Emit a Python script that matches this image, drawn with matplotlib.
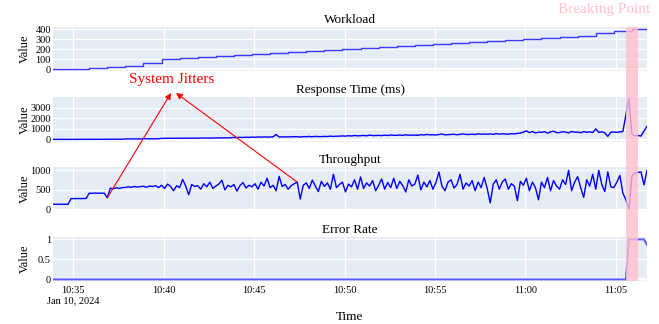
import numpy as np
import pandas as pd
import matplotlib
matplotlib.use('Agg')
import matplotlib.pyplot as plt
import matplotlib.dates as mdates
from matplotlib.patches import Rectangle, ConnectionPatch
from matplotlib.transforms import blended_transform_factory

# --- data ---
start = '2024-01-10 10:33:53'
end = '2024-01-10 11:06:43'

# workload: one level per minute (steps at hh:mm:53)
workload = [0, 0, 10, 20, 30, 60, 100, 110, 120, 130, 140, 150, 160, 170, 180, 190, 200,
            210, 220, 230, 240, 250, 260, 270, 280, 290, 300, 310, 320, 330, 360, 380, 400]

# response time in ms, sampled every 10 s (one row per minute)
response = [
    15, 18, 16, 17, 15, 16,
    18, 17, 19, 18, 20, 18,
    22, 20, 24, 21, 23, 22,
    30, 28, 32, 29, 31, 30,
    55, 60, 58, 62, 57, 60,
    70, 75, 68, 72, 74, 70,
    110, 118, 112, 120, 115, 122,
    125, 130, 120, 135, 128, 132,
    140, 135, 150, 142, 138, 148,
    155, 160, 150, 165, 158, 170,
    200, 185, 210, 195, 220, 205,
    230, 215, 245, 225, 250, 235,
    240, 260, 480, 235, 255, 245,
    260, 250, 275, 265, 240, 280,
    270, 290, 265, 300, 280, 275,
    300, 285, 320, 295, 310, 330,
    340, 320, 360, 335, 380, 350,
    360, 390, 350, 420, 370, 380,
    390, 370, 410, 385, 430, 400,
    400, 430, 390, 450, 410, 420,
    420, 400, 460, 430, 480, 440,
    450, 430, 470, 520, 440, 460,
    470, 500, 450, 490, 530, 480,
    480, 510, 470, 540, 500, 520,
    500, 530, 490, 560, 510, 540,
    520, 500, 560, 530, 580, 600,
    700, 820, 650, 760, 620, 690,
    680, 740, 600, 720, 790, 650,
    660, 730, 700, 620, 760, 690,
    700, 640, 750, 680, 720, 660,
    1000, 680, 720, 640, 300, 700,
    700, 680, 720, 760, 2300, 3850,
    520, 360, 380, 330, 800, 1250,
]

# throughput, same 10 s samples
throughput = [
    136, 135, 137, 136, 134, 136,
    282, 280, 283, 281, 282, 284,
    418, 416, 420, 419, 417, 421,
    300, 545, 530, 556, 540, 560,
    565, 580, 570, 590, 575, 585,
    595, 570, 600, 585, 610, 560,
    620, 540, 650, 590, 480, 610,
    560, 770, 600, 380, 640, 590,
    610, 520, 660, 580, 700, 540,
    600, 650, 750, 500, 620, 580,
    640, 470, 610, 690, 550, 620,
    580, 660, 520, 700, 600, 800,
    560, 620, 480, 846, 590, 640,
    520, 610, 660, 700, 270, 620,
    680, 540, 750, 600, 460, 720,
    590, 680, 520, 900, 560, 640,
    700, 450, 650, 580, 760, 520,
    830, 540, 680, 600, 740, 480,
    620, 780, 520, 690, 560, 800,
    540, 720, 610, 450, 760, 600,
    650, 880, 500, 700, 580, 740,
    520, 690, 957, 600, 480, 700,
    760, 550, 640, 900, 520, 680,
    600, 740, 480, 700, 560, 820,
    540, 172, 650, 760, 520, 700,
    780, 520, 660, 600, 230, 720,
    620, 800, 480, 700, 560, 250,
    700, 560, 820, 480, 740, 600,
    520, 760, 640, 1000, 480, 700,
    840, 560, 310, 760, 600, 900,
    520, 1000, 640, 460, 960, 580,
    560, 700, 870, 420, 250, 20,
    850, 930, 945, 960, 630, 1000,
]

error_rate = [0.0] * 191 + [1, 1, 1, 1, 1, 1, 0.86]

tick_times = ['10:35', '10:40', '10:45', '10:50', '10:55', '11:00', '11:05']
tick_labels = ['10:35\nJan 10, 2024', '10:40', '10:45', '10:50', '10:55', '11:00', '11:05']

break_start = '2024-01-10 11:05:35'
break_end = '2024-01-10 11:06:12'
jitter_points = [('2024-01-10 10:36:53', 300), ('2024-01-10 10:47:23', 700)]

# --- plot ---
plt.rcParams['font.family'] = ['Liberation Serif', 'DejaVu Serif']

times = pd.date_range(start, periods=len(response), freq='10s')
wl_times = pd.date_range(start, periods=len(workload), freq='1min').append(pd.DatetimeIndex([end]))
wl_vals = workload + [workload[-1]]

fig = plt.figure(figsize=(6.59, 3.24), dpi=100)
W, H = 659, 324
left, right = 53, 647
rows = [(27, 71), (97, 142), (167, 211), (237, 281)]
axes = [fig.add_axes([left / W, 1 - b / H, (right - left) / W, (b - t) / H]) for t, b in rows]
ax1, ax2, ax3, ax4 = axes

ax1.step(wl_times, wl_vals, where='post', color='#3a3aff', lw=1.0)
ax2.plot(times, response, color='blue', lw=1.0)
ax3.plot(times, throughput, color='blue', lw=1.0)
ax4.plot(times, error_rate, color='#5a5aff', lw=1.4)

titles = ['Workload', 'Response Time (ms)', 'Throughput', 'Error Rate']
yticks = [[0, 100, 200, 300, 400], [0, 1000, 2000, 3000], [0, 500, 1000], [0, 0.5, 1]]
ytl = [['0', '100', '200', '300', '400'], ['0', '1000', '2000', '3000'],
       ['0', '500', '1000'], ['0', '0.5', '1']]
ylims = [(-15, 423), (-230, 4000), (-35, 1085), (-0.04, 1.06)]

xt = pd.to_datetime(['2024-01-10 ' + t for t in tick_times])
for ax, ttl, yt, yl, lim in zip(axes, titles, yticks, ytl, ylims):
    ax.set_facecolor('#E5ECF6')
    for s in ax.spines.values():
        s.set_visible(False)
    ax.set_xlim(pd.Timestamp(start), pd.Timestamp(end))
    ax.set_ylim(*lim)
    ax.set_yticks(yt)
    ax.set_yticklabels(yl, fontsize=7.5)
    ax.set_xticks(xt)
    ax.grid(True, color='white', lw=0.9)
    ax.axhline(0, color='white', lw=1.6, zorder=0.9)
    ax.set_axisbelow(True)
    ax.tick_params(length=0, pad=1.5)
    ax.set_title(ttl, fontsize=9.5, pad=3)
    ax.set_ylabel('Value', fontsize=9)
    ax.yaxis.set_label_coords(-0.038, 0.5)
    if ax is not ax4:
        ax.set_xticklabels([])

ax4.set_xticklabels(tick_labels, fontsize=7.5)
ax4.tick_params(axis='x', pad=3.5)
ax4.set_xlabel('Time', fontsize=9.5, labelpad=4)

# breaking point band across all panels
trans = blended_transform_factory(ax4.transData, fig.transFigure)
x0 = mdates.date2num(pd.Timestamp(break_start))
x1 = mdates.date2num(pd.Timestamp(break_end))
fig.add_artist(Rectangle((x0, 1 - 281 / H), x1 - x0, (281 - 27) / H, transform=trans,
                         facecolor='pink', alpha=0.8, edgecolor='none', zorder=5))
fig.text(604 / W, 1 - 10 / H, 'Breaking Point', color='pink', fontsize=11,
         ha='center', va='center')

# system jitters annotation
fig.text(172 / W, 1 - 79 / H, 'System Jitters', color='red', fontsize=11,
         ha='center', va='center')
for (t, v), hx in zip(jitter_points, [171, 176]):
    con = ConnectionPatch(xyA=(mdates.date2num(pd.Timestamp(t)), v), coordsA=ax3.transData,
                          xyB=(hx / W, 1 - 93 / H), coordsB=fig.transFigure,
                          arrowstyle='-|>', mutation_scale=9, color='red', lw=0.8)
    con.set_zorder(6)
    fig.add_artist(con)

fig.savefig('out.png', dpi=100)
